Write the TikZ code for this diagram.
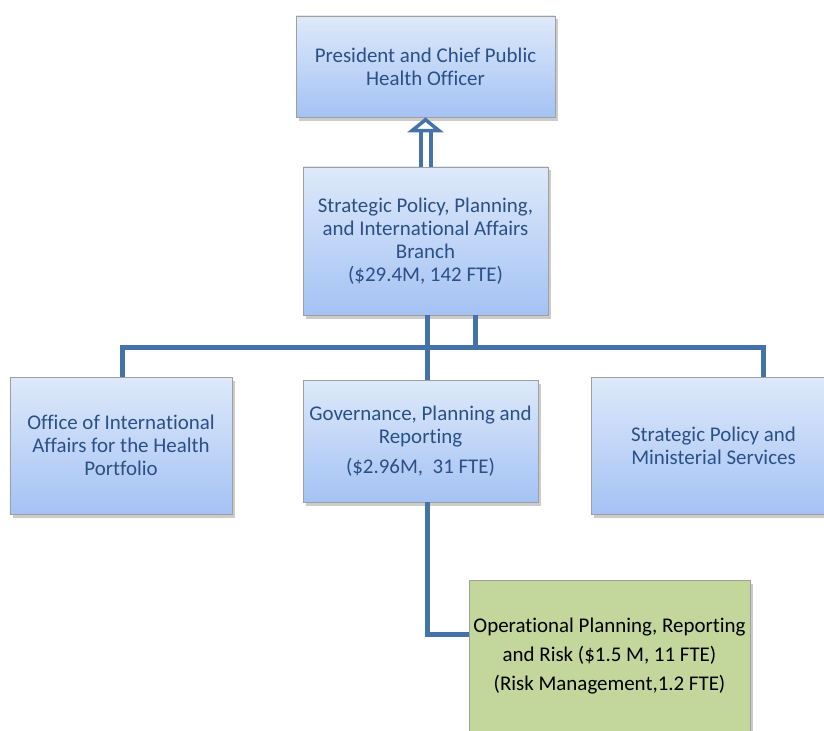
\documentclass[tikz,border=0pt]{standalone}
\usepackage{fontspec}
\setmainfont{Carlito}[Ligatures=NoCommon]
\usetikzlibrary{arrows.meta,shadows}

\definecolor{boxtop}{RGB}{222,233,250}
\definecolor{boxbot}{RGB}{164,194,244}
\definecolor{boxtext}{RGB}{42,80,135}
\definecolor{linkblue}{RGB}{70,114,170}
\definecolor{riskgreen}{RGB}{195,214,155}

\tikzset{
  boxbase/.style={draw=gray!75, line width=0.8bp, align=center, inner sep=0pt,
    drop shadow={shadow xshift=3bp, shadow yshift=-3.5bp, opacity=0.4}},
  unit/.style={boxbase, top color=boxtop, bottom color=boxbot, text=boxtext,
    font=\fontsize{21}{23}\selectfont},
  riskunit/.style={boxbase, fill=riskgreen, text=black,
    font=\fontsize{21}{29}\selectfont},
  link/.style={draw=linkblue, line width=5bp},
}

\begin{document}
\begin{tikzpicture}[x=1bp, y=-1bp]
    \useasboundingbox (0,0) rectangle (824,731);

    % boxes
    \node[unit, minimum width=259bp, minimum height=101bp] (pres) at (425.5,66.5)
        {President and Chief Public\\Health Officer};
    \node[unit, minimum width=245bp, minimum height=148bp] (branch) at (425.5,241)
        {Strategic Policy, Planning,\\and International Affairs\\Branch\\(\$29.4M, 142 FTE)};
    \node[unit, minimum width=222bp, minimum height=137bp] (intl) at (121,445.5)
        {Office of International\\Affairs for the Health\\Portfolio};
    \node[unit, minimum width=235bp, minimum height=122bp] (gov) at (420.5,441)
        {Governance, Planning and\\Reporting\\[7bp](\$2.96M,\ \ 31 FTE)};
    \node[unit, minimum width=245bp, minimum height=137bp] (policy) at (713.5,445.5)
        {Strategic Policy and\\Ministerial Services};
    \node[riskunit, minimum width=281bp, minimum height=152bp] (oprisk) at (609.5,656)
        {Operational Planning, Reporting\\and Risk (\$1.5 M, 11 FTE)\\(Risk Management,1.2 FTE)};

    % bus lines
    \coordinate (trunk) at (427,347);
    \coordinate (bus) at (475,347);
    \coordinate (ldrop) at (122,347);
    \coordinate (rdrop) at (763,347);

    \draw[linkblue, line width=4bp, double=white, double distance=6bp,
        -{Triangle[open, fill=white, length=15bp, width=36bp, line width=3.5bp]}]
        (branch.north) -- (pres.south);
    \draw[link] (branch.south -| trunk) -- (gov.north -| trunk);
    \draw[link] (branch.south -| bus) -- (bus);
    \draw[link] (intl.north -| ldrop) -- (ldrop) -- (rdrop) -- (policy.north -| rdrop);
    \draw[link] (gov.south -| trunk) |- ([yshift=22bp]oprisk.west);
\end{tikzpicture}
\end{document}
